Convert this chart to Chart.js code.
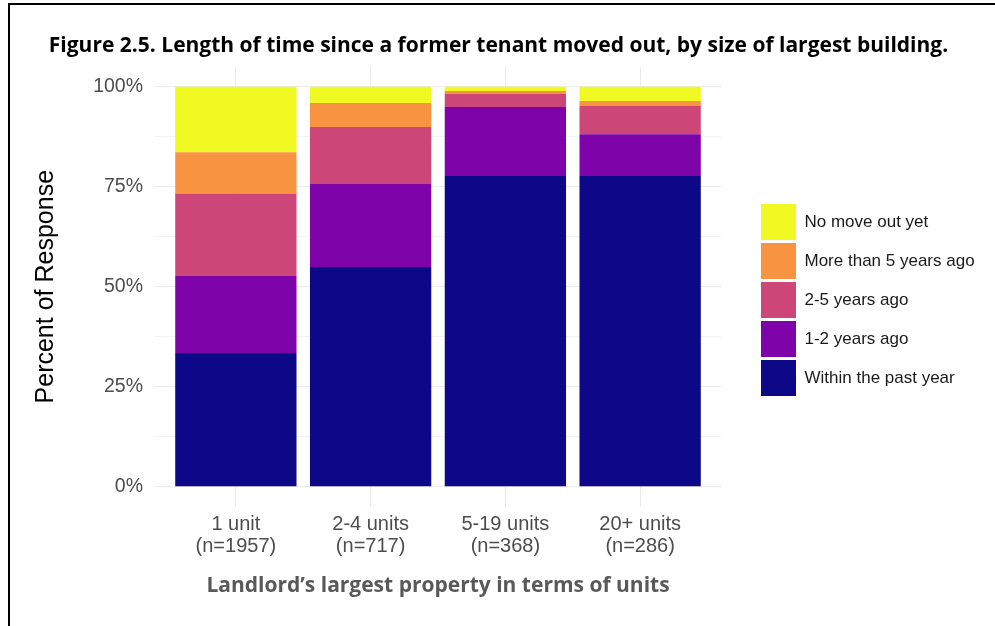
<!DOCTYPE html>
<html>
<head>
<meta charset="utf-8">
<script src="https://cdn.jsdelivr.net/npm/chart.js@4.4.0/dist/chart.umd.min.js"></script>
<style>
  body { margin: 0; background: #fff; }
  #wrap { position: relative; width: 995px; height: 626px; overflow: hidden; }
  #frame { position: absolute; left: 8px; top: 3px; width: 1100px; height: 700px;
           border-top: 2px solid #000; border-left: 2px solid #000; pointer-events: none; }
</style>
</head>
<body>
<div id="wrap">
  <canvas id="myChart" width="995" height="626"></canvas>
  <div id="frame"></div>
</div>
<script>
// categories and sample sizes
const categories = ['1 unit', '2-4 units', '5-19 units', '20+ units'];
const sampleSizes = [1957, 717, 368, 286];
const catPositions = [1, 2, 3, 4];

// percent of response, bottom segment first
const withinPastYear = [33.4, 54.9, 77.7, 77.7];
const oneToTwoYears = [19.3, 20.8, 17.2, 10.4];
const twoToFiveYears = [20.6, 14.2, 3.3, 7.1];
const moreThanFive = [10.3, 6.0, 0.7, 1.25];
const noMoveOut = [16.4, 4.1, 1.1, 3.55];

const legendLabels = ['Within the past year', '1-2 years ago', '2-5 years ago', 'More than 5 years ago', 'No move out yet'];
const yTickValues = [0, 12.5, 25, 37.5, 50, 62.5, 75, 87.5, 100];

const sansFont = "'Liberation Sans', Arial, sans-serif";
const titleFont = "'Open Sans', sans-serif";
const titleText = 'Figure 2.5. Length of time since a former tenant moved out, by size of largest building.';
const xTitleText = 'Landlord\u2019s largest property in terms of units';

// legend width -> right padding, so the plot ends where the reference does
const legendFontSize = 17;
const mctx = document.createElement('canvas').getContext('2d');
mctx.font = legendFontSize + 'px ' + sansFont;
const longest = Math.max(...legendLabels.map(t => mctx.measureText(t).width));
const legendW = 3 + 35 + legendFontSize / 2 + longest + 10;
const padRight = 237 - legendW;
const padLeft = padRight + 2;

function series(label, vals, color){
    return {
        label: label,
        data: vals.map((v, i) => ({x: catPositions[i], y: v})),
        backgroundColor: color,
        borderWidth: 0,
        categoryPercentage: 1,
        barPercentage: 0.9
    };
}

const data = {
    datasets: [
        series(legendLabels[0], withinPastYear, '#0D0887'),
        series(legendLabels[1], oneToTwoYears, '#7E03A8'),
        series(legendLabels[2], twoToFiveYears, '#CC4778'),
        series(legendLabels[3], moreThanFive, '#F89441'),
        series(legendLabels[4], noMoveOut, '#F0F921')
    ]
};

const config = {
    type: 'bar',
    data: data,
    options: {
        responsive: false,
        animation: false,
        layout: { padding: { top: 0, bottom: 26, left: padLeft, right: padRight } },
        plugins: {
            tooltip: { enabled: false },
            title: {
                display: true,
                text: titleText,
                color: '#000',
                font: { family: titleFont, size: 21, weight: 'bold', lineHeight: 1.2 },
                padding: { top: 33.9, bottom: 7.6 }
            },
            legend: {
                position: 'right',
                reverse: true,
                maxWidth: 400,
                labels: {
                    boxWidth: 35,
                    boxHeight: 36,
                    padding: 3,
                    color: '#1a1a1a',
                    font: { family: sansFont, size: legendFontSize }
                }
            }
        },
        scales: {
            x: {
                type: 'linear',
                stacked: true,
                offset: false,
                min: 0.4,
                max: 4.6,
                afterBuildTicks: s => { s.ticks = catPositions.map(v => ({value: v})); },
                afterFit: s => { s.height = 93.3; },
                grid: { color: '#EBEBEB', lineWidth: 1, drawTicks: false, offset: false },
                border: { display: false },
                ticks: {
                    padding: 6.5,
                    color: '#4D4D4D',
                    font: { family: sansFont, size: 20, lineHeight: 1.1 },
                    callback: (v, i) => [categories[i], '(n=' + sampleSizes[i] + ')']
                },
                title: {
                    display: true,
                    text: xTitleText,
                    color: '#595959',
                    font: { family: titleFont, size: 21, weight: 'bold', lineHeight: 1.2 },
                    padding: { top: 0, bottom: 1.4 }
                }
            },
            y: {
                stacked: true,
                min: -5,
                max: 105,
                afterBuildTicks: s => { s.ticks = yTickValues.map(v => ({value: v})); },
                afterFit: s => { s.width = 155 - padLeft; },
                grid: {
                    color: c => (c.tick && c.tick.value % 25 === 0) ? '#EBEBEB' : '#F3F3F3',
                    lineWidth: 1,
                    drawTicks: false
                },
                border: { display: false },
                ticks: {
                    padding: 12,
                    color: '#4D4D4D',
                    font: { family: sansFont, size: 19.5 },
                    callback: v => (v % 25 === 0) ? v + '%' : ''
                },
                title: {
                    display: true,
                    text: 'Percent of Response',
                    color: '#000',
                    font: { family: sansFont, size: 25, lineHeight: 1.2 },
                    padding: { top: 46.3 - padLeft - 15, bottom: 0 }
                }
            },
            y2: {
                position: 'right',
                display: true,
                afterFit: s => { s.width = 37; },
                grid: { display: false },
                border: { display: false },
                ticks: { display: false }
            }
        }
    }
};

new Chart(document.getElementById('myChart'), config);
</script>
</body>
</html>
